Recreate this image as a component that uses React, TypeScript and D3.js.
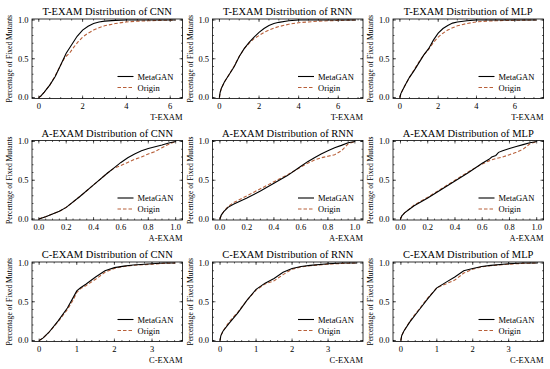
import React from "react";
import * as d3 from "d3";

type Pt = [number, number];

const models = ["CNN", "RNN", "MLP"];
const metrics = ["T-EXAM", "A-EXAM", "C-EXAM"];
const seriesNames = ["MetaGAN", "Origin"];

// x domains per row / column
const xDomains: [number, number][][] = [
  [[-0.31, 6.56], [-0.35, 7.25], [-0.36, 7.5]],
  [[-0.05, 1.05], [-0.055, 1.06], [-0.055, 1.05]],
  [[-0.19, 3.81], [-0.21, 3.97], [-0.22, 3.97]],
];
const xMajor = [2, 0.2, 1];
const xMinor = [0.5, 0.05, 0.2];
const yTicks = [0, 0.5, 1];

const tCnnMeta: Pt[] = [[0,0],[0.1,0.02],[0.25,0.07],[0.5,0.16],[0.75,0.27],[1.0,0.42],[1.25,0.57],[1.5,0.68],[1.75,0.79],[2.0,0.87],[2.25,0.92],[2.5,0.955],[2.75,0.975],[3.0,0.985],[3.5,0.995],[4.0,1.0],[6.25,1.0]];
const tCnnOrig: Pt[] = [[0,0],[0.1,0.02],[0.25,0.07],[0.5,0.16],[0.75,0.28],[1.0,0.42],[1.2,0.52],[1.4,0.57],[1.6,0.65],[1.8,0.72],[2.0,0.78],[2.25,0.83],[2.5,0.87],[2.75,0.9],[3.0,0.925],[3.5,0.955],[4.0,0.975],[4.5,0.985],[5.0,0.99],[5.5,0.995],[6.25,1.0]];
const tRnnMeta: Pt[] = [[0,0],[0.03,0.06],[0.1,0.12],[0.25,0.2],[0.5,0.3],[0.75,0.4],[1.0,0.53],[1.25,0.63],[1.5,0.71],[1.75,0.78],[2.0,0.84],[2.25,0.89],[2.5,0.93],[2.75,0.955],[3.0,0.97],[3.5,0.99],[4.0,1.0],[6.9,1.0]];
const tRnnOrig: Pt[] = [[0,0],[0.03,0.06],[0.1,0.12],[0.25,0.2],[0.5,0.3],[0.75,0.41],[1.0,0.53],[1.25,0.63],[1.5,0.7],[1.75,0.76],[2.0,0.8],[2.25,0.84],[2.5,0.87],[2.75,0.895],[3.0,0.915],[3.5,0.945],[4.0,0.965],[4.5,0.975],[5.0,0.985],[6.0,0.995],[6.9,1.0]];
const tMlpMeta: Pt[] = [[0,0],[0.05,0.05],[0.15,0.1],[0.3,0.17],[0.5,0.26],[0.75,0.35],[1.0,0.45],[1.25,0.55],[1.5,0.63],[1.75,0.74],[2.0,0.83],[2.25,0.89],[2.5,0.93],[2.75,0.96],[3.0,0.975],[3.5,0.99],[4.0,1.0],[7.15,1.0]];
const tMlpOrig: Pt[] = [[0,0],[0.05,0.05],[0.15,0.1],[0.3,0.17],[0.5,0.26],[0.75,0.36],[1.0,0.46],[1.25,0.55],[1.5,0.62],[1.75,0.71],[2.0,0.78],[2.25,0.83],[2.5,0.87],[2.75,0.9],[3.0,0.925],[3.5,0.955],[4.0,0.975],[4.5,0.985],[5.0,0.99],[6.0,0.997],[7.15,1.0]];

const aCnnMeta: Pt[] = [[0,0],[0.05,0.03],[0.1,0.065],[0.15,0.1],[0.2,0.15],[0.3,0.29],[0.4,0.44],[0.5,0.59],[0.55,0.66],[0.6,0.73],[0.65,0.79],[0.7,0.84],[0.75,0.88],[0.8,0.91],[0.9,0.955],[0.95,0.98],[1.0,1.0]];
const aCnnOrig: Pt[] = [[0,0],[0.05,0.03],[0.1,0.065],[0.15,0.1],[0.2,0.15],[0.3,0.29],[0.4,0.44],[0.5,0.59],[0.55,0.655],[0.6,0.69],[0.65,0.73],[0.7,0.77],[0.75,0.8],[0.8,0.84],[0.85,0.87],[0.9,0.92],[0.95,0.965],[1.0,1.0]];
const aRnnMeta: Pt[] = [[0,0],[0.01,0.05],[0.03,0.1],[0.06,0.15],[0.1,0.19],[0.2,0.27],[0.3,0.36],[0.4,0.46],[0.5,0.56],[0.6,0.68],[0.65,0.74],[0.7,0.79],[0.75,0.84],[0.8,0.88],[0.85,0.92],[0.9,0.95],[0.95,0.985],[1.0,1.0]];
const aRnnOrig: Pt[] = [[0,0],[0.01,0.05],[0.03,0.1],[0.06,0.16],[0.1,0.21],[0.2,0.3],[0.3,0.39],[0.4,0.48],[0.5,0.57],[0.6,0.67],[0.65,0.72],[0.7,0.76],[0.75,0.79],[0.8,0.81],[0.85,0.83],[0.9,0.88],[0.95,0.97],[1.0,1.0]];
const aMlpMeta: Pt[] = [[0,0],[0.01,0.04],[0.03,0.08],[0.06,0.12],[0.1,0.17],[0.2,0.27],[0.3,0.38],[0.4,0.49],[0.5,0.6],[0.6,0.72],[0.65,0.77],[0.67,0.8],[0.7,0.82],[0.72,0.86],[0.75,0.88],[0.8,0.91],[0.85,0.935],[0.9,0.96],[0.95,0.985],[1.0,1.0]];
const aMlpOrig: Pt[] = [[0,0],[0.01,0.04],[0.03,0.08],[0.06,0.12],[0.1,0.18],[0.2,0.28],[0.3,0.39],[0.4,0.5],[0.5,0.61],[0.6,0.71],[0.65,0.75],[0.7,0.78],[0.75,0.8],[0.8,0.83],[0.85,0.86],[0.9,0.9],[0.95,0.97],[1.0,1.0]];

const cCnnMeta: Pt[] = [[0,0],[0.1,0.03],[0.25,0.1],[0.5,0.25],[0.75,0.42],[0.9,0.55],[1.0,0.64],[1.1,0.68],[1.25,0.73],[1.5,0.82],[1.75,0.9],[2.0,0.94],[2.25,0.96],[2.5,0.975],[3.0,0.99],[3.3,1.0],[3.62,1.0]];
const cCnnOrig: Pt[] = [[0,0],[0.1,0.03],[0.25,0.1],[0.5,0.24],[0.75,0.4],[0.9,0.52],[1.0,0.62],[1.1,0.67],[1.25,0.71],[1.5,0.79],[1.75,0.88],[2.0,0.93],[2.25,0.955],[2.5,0.97],[3.0,0.985],[3.3,0.995],[3.62,1.0]];
const cRnnMeta: Pt[] = [[0,0],[0.02,0.06],[0.08,0.12],[0.25,0.22],[0.5,0.36],[0.75,0.52],[1.0,0.66],[1.25,0.74],[1.5,0.8],[1.75,0.88],[2.0,0.93],[2.25,0.955],[2.5,0.97],[3.0,0.99],[3.4,1.0],[3.8,1.0]];
const cRnnOrig: Pt[] = [[0,0],[0.02,0.06],[0.08,0.12],[0.25,0.24],[0.5,0.37],[0.75,0.52],[1.0,0.65],[1.25,0.73],[1.5,0.77],[1.75,0.85],[2.0,0.92],[2.25,0.95],[2.5,0.965],[3.0,0.985],[3.4,0.995],[3.8,1.0]];
const cMlpMeta: Pt[] = [[0,0],[0.02,0.06],[0.08,0.12],[0.25,0.24],[0.5,0.39],[0.75,0.54],[1.0,0.68],[1.25,0.75],[1.5,0.82],[1.75,0.9],[2.0,0.93],[2.25,0.955],[2.5,0.97],[3.0,0.99],[3.4,1.0],[3.8,1.0]];
const cMlpOrig: Pt[] = [[0,0],[0.02,0.06],[0.08,0.12],[0.25,0.25],[0.5,0.4],[0.75,0.55],[1.0,0.68],[1.25,0.73],[1.5,0.78],[1.75,0.87],[2.0,0.92],[2.25,0.95],[2.5,0.965],[3.0,0.985],[3.4,0.995],[3.8,1.0]];

const curves: [Pt[], Pt[]][][] = [
  [[tCnnMeta, tCnnOrig], [tRnnMeta, tRnnOrig], [tMlpMeta, tMlpOrig]],
  [[aCnnMeta, aCnnOrig], [aRnnMeta, aRnnOrig], [aMlpMeta, aMlpOrig]],
  [[cCnnMeta, cCnnOrig], [cRnnMeta, cRnnOrig], [cMlpMeta, cMlpOrig]],
];

const W = 550;
const H = 369;
const PLOT_W = 150.5;
const PLOT_H = 79.5;
const COL_STEP = 180.5;
const ROW_STEP = 121.5;
const FONT = "'Liberation Serif', 'Times New Roman', Times, serif";
const ORIGIN_COLOR = "#b8603a";

function range(a: number, b: number, step: number) {
  const out: number[] = [];
  const start = Math.ceil(a / step - 1e-9);
  const end = Math.floor(b / step + 1e-9);
  for (let i = start; i <= end; i++) out.push(+(i * step).toFixed(6));
  return out;
}

function Panel({ row, col }: { row: number; col: number }) {
  const left = 32 + col * COL_STEP;
  const top = 19 + row * ROW_STEP;
  const x = d3.scaleLinear().domain(xDomains[row][col]).range([0, PLOT_W]);
  const y = d3.scaleLinear().domain([-0.013, 1.013]).range([PLOT_H, 0]);
  const line = d3.line<Pt>().x(d => x(d[0])).y(d => y(d[1]));
  const [meta, orig] = curves[row][col];

  const dom = x.domain();
  const xMaj = range(dom[0], dom[1], xMajor[row]);
  const xMin = range(dom[0], dom[1], xMinor[row]);
  const yMin = range(0, 1, 0.1);
  const fmt = row === 1 ? d3.format(".1f") : d3.format("d");

  return (
    <g transform={`translate(${left},${top})`}>
      <text x={PLOT_W / 2} y={-4} textAnchor="middle" fontSize={10.5}>
        {`${metrics[row]} Distribution of ${models[col]}`}
      </text>
      <g stroke="#000" strokeWidth={0.6}>
        {xMin.map(v => (
          <g key={"xm" + v}>
            <line x1={x(v)} x2={x(v)} y1={PLOT_H} y2={PLOT_H - 1.5} />
            <line x1={x(v)} x2={x(v)} y1={0} y2={1.5} />
          </g>
        ))}
        {xMaj.map(v => (
          <g key={"xM" + v}>
            <line x1={x(v)} x2={x(v)} y1={PLOT_H} y2={PLOT_H - 3} />
            <line x1={x(v)} x2={x(v)} y1={0} y2={3} />
          </g>
        ))}
        {yMin.map(v => (
          <g key={"ym" + v}>
            <line x1={0} x2={1.5} y1={y(v)} y2={y(v)} />
            <line x1={PLOT_W} x2={PLOT_W - 1.5} y1={y(v)} y2={y(v)} />
          </g>
        ))}
        {yTicks.map(v => (
          <g key={"yM" + v}>
            <line x1={0} x2={3} y1={y(v)} y2={y(v)} />
            <line x1={PLOT_W} x2={PLOT_W - 3} y1={y(v)} y2={y(v)} />
          </g>
        ))}
      </g>
      <path d={line(orig) || ""} fill="none" stroke={ORIGIN_COLOR} strokeWidth={1.1} strokeDasharray="3.5,2" />
      <path d={line(meta) || ""} fill="none" stroke="#000" strokeWidth={1.1} />
      <rect x={0} y={0} width={PLOT_W} height={PLOT_H} fill="none" stroke="#000" strokeWidth={0.8} />
      {xMaj.map(v => (
        <text key={"xl" + v} x={x(v)} y={PLOT_H + 10} textAnchor="middle" fontSize={8.5}>
          {fmt(v)}
        </text>
      ))}
      {yTicks.map(v => (
        <text key={"yl" + v} x={-3.5} y={y(v) + 2.8} textAnchor="end" fontSize={8.5}>
          {d3.format(".1f")(v)}
        </text>
      ))}
      <text x={PLOT_W} y={PLOT_H + 21} textAnchor="end" fontSize={8.5}>
        {metrics[row]}
      </text>
      <text
        transform={`translate(${-20},${PLOT_H / 2}) rotate(-90)`}
        textAnchor="middle"
        fontSize={7.6}
      >
        Percentage of Fixed Mutants
      </text>
      {seriesNames.map((name, i) => (
        <g key={name} transform={`translate(${PLOT_W - 65},${PLOT_H - 22 + i * 11})`}>
          <line
            x1={0}
            x2={16}
            y1={0}
            y2={0}
            stroke={i === 0 ? "#000" : ORIGIN_COLOR}
            strokeWidth={1.1}
            strokeDasharray={i === 0 ? undefined : "3.5,2"}
          />
          <text x={20} y={3} fontSize={8.5}>
            {name}
          </text>
        </g>
      ))}
    </g>
  );
}

export default function App() {
  return (
    <div style={{ position: "absolute", left: 0, top: 0 }}>
      <svg
        width={W}
        height={H}
        viewBox={`0 0 ${W} ${H}`}
        style={{ display: "block", background: "#fff", fontFamily: FONT }}
      >
        {metrics.map((_, r) => models.map((__, c) => <Panel key={`${r}-${c}`} row={r} col={c} />))}
      </svg>
    </div>
  );
}
